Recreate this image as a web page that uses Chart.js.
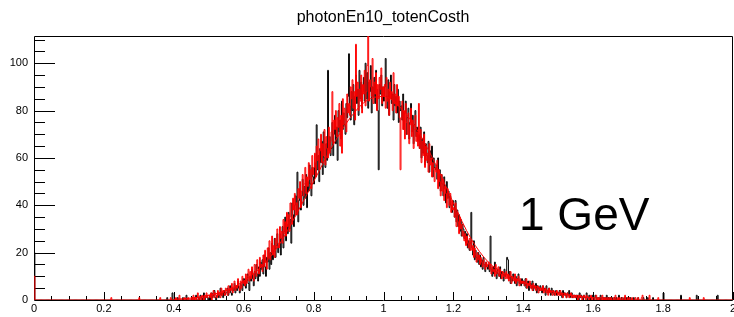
<!DOCTYPE html>
<html>
<head>
<meta charset="utf-8">
<script src="https://cdn.jsdelivr.net/npm/chart.js@4.4.1/dist/chart.umd.min.js"></script>
<style>
    html, body { margin: 0; padding: 0; background: #fff; }
    #wrap { width: 734px; height: 317px; }
</style>
</head>
<body>
<div id="wrap"><canvas id="chart-hist"></canvas></div>
<script>
// Histogram binning (x from 0 to 2)
const BIN_W = 0.0025;
const CORE_START = 0.45;

// Black histogram, bins from 0.45 on (20 bins = 0.05 per row)
const blackCore = [
    0, 1, 0, 0, 1, 2, 0, 0, 1, 0, 2, 1, 0, 1, 3, 0, 1, 2, 1, 0,
    1, 2, 0, 3, 1, 2, 4, 1, 0, 2, 3, 1, 2, 5, 2, 3, 1, 4, 2, 3,
    3, 5, 2, 4, 6, 3, 2, 5, 4, 7, 3, 6, 4, 8, 5, 3, 7, 6, 4, 9,
    6, 9, 5, 8, 11, 7, 4, 10, 8, 13, 9, 6, 12, 9, 15, 11, 8, 14, 10, 16,
    13, 17, 11, 19, 14, 10, 18, 16, 22, 13, 20, 15, 24, 17, 21, 26, 18, 23, 28, 20,
    23, 28, 19, 26, 31, 22, 29, 35, 25, 32, 28, 37, 30, 34, 24, 41, 36, 31, 40, 44,
    36, 54, 33, 42, 47, 38, 44, 51, 40, 48, 43, 53, 39, 50, 46, 57, 49, 44, 56, 52,
    49, 58, 52, 74, 55, 61, 50, 64, 58, 67, 53, 71, 60, 56, 66, 59, 97, 63, 69, 61,
    64, 75, 61, 70, 78, 66, 73, 59, 80, 71, 76, 68, 84, 72, 79, 74, 70, 83, 77, 86,
    104, 82, 76, 88, 80, 91, 74, 86, 95, 83, 89, 78, 97, 85, 92, 81, 88, 94, 84, 100,
    85, 96, 81, 92, 88, 99, 79, 90, 86, 94, 83, 97, 89, 80, 55, 91, 87, 95, 82, 90,
    84, 90, 102, 86, 81, 93, 78, 88, 95, 83, 87, 76, 91, 82, 86, 79, 89, 75, 84, 80,
    82, 76, 87, 72, 79, 84, 70, 77, 81, 68, 75, 83, 71, 78, 66, 74, 80, 69, 73, 67,
    70, 64, 73, 60, 68, 62, 71, 57, 66, 61, 58, 67, 54, 63, 59, 65, 52, 60, 56, 55,
    57, 51, 60, 48, 55, 46, 53, 49, 44, 52, 47, 41, 50, 43, 46, 39, 44, 40, 37, 42,
    40, 35, 42, 33, 38, 31, 36, 29, 34, 27, 32, 30, 26, 29, 24, 28, 22, 25, 21, 24,
    37, 22, 19, 25, 17, 21, 18, 16, 20, 15, 19, 14, 17, 13, 18, 15, 12, 16, 14, 13,
    15, 12, 27, 13, 10, 14, 11, 16, 12, 9, 13, 11, 10, 14, 9, 12, 11, 8, 13, 10,
    11, 18, 17, 9, 12, 7, 10, 8, 11, 9, 7, 10, 6, 9, 11, 7, 8, 6, 9, 7,
    8, 6, 9, 5, 7, 8, 4, 6, 7, 5, 8, 4, 6, 5, 7, 3, 6, 5, 4, 6,
    5, 3, 6, 4, 5, 2, 6, 4, 3, 5, 4, 2, 5, 3, 4, 2, 3, 4, 2, 3,
    3, 4, 2, 3, 1, 4, 2, 3, 2, 1, 3, 2, 4, 1, 2, 3, 1, 2, 2, 1,
    2, 1, 2, 0, 3, 1, 2, 1, 0, 2, 1, 1, 3, 0, 1, 2, 0, 1, 1, 2,
    1, 0, 2, 1, 0, 1, 1, 0, 2, 0, 1, 1, 0, 1, 0, 2, 0, 1, 0, 1,
    0, 1, 0, 0, 1, 0, 1, 0, 0, 2, 0, 0, 1, 0, 0, 1, 0, 0, 1, 0,
    0, 0, 1, 0, 0, 0, 1, 0, 0, 0, 0, 1, 0, 0, 0, 0, 0, 1, 0, 0
];

// Red histogram, same binning
const redCore = [
    1, 0, 2, 0, 1, 0, 1, 3, 0, 1, 1, 0, 2, 1, 0, 2, 1, 3, 1, 2,
    2, 1, 3, 0, 2, 4, 1, 3, 2, 1, 4, 2, 3, 1, 5, 2, 4, 3, 2, 5,
    4, 2, 6, 3, 5, 4, 7, 3, 5, 8, 4, 6, 5, 9, 6, 4, 8, 5, 10, 7,
    8, 6, 11, 7, 10, 13, 8, 12, 9, 14, 11, 8, 15, 12, 10, 17, 13, 11, 18, 14,
    15, 12, 19, 14, 21, 16, 13, 22, 18, 25, 17, 20, 27, 19, 23, 18, 26, 22, 30, 24,
    22, 31, 26, 29, 24, 34, 28, 33, 27, 37, 31, 36, 29, 41, 35, 32, 43, 38, 45, 36,
    41, 36, 47, 43, 50, 39, 46, 53, 44, 49, 56, 45, 52, 48, 58, 51, 55, 47, 61, 53,
    56, 62, 52, 65, 59, 68, 55, 63, 70, 58, 66, 61, 72, 57, 69, 64, 60, 73, 62, 67,
    71, 88, 66, 76, 72, 80, 69, 77, 73, 83, 65, 78, 62, 85, 74, 81, 76, 71, 87, 79,
    83, 78, 90, 85, 93, 81, 88, 76, 108, 86, 92, 80, 89, 84, 95, 79, 91, 87, 97, 82,
    88, 99, 118, 84, 93, 90, 86, 102, 83, 92, 87, 96, 80, 91, 85, 94, 89, 98, 83, 90,
    86, 91, 81, 94, 84, 89, 78, 92, 85, 88, 80, 96, 83, 87, 79, 91, 82, 86, 77, 55,
    77, 84, 72, 80, 68, 83, 75, 70, 79, 66, 74, 81, 69, 76, 64, 72, 78, 67, 71, 65,
    83, 64, 72, 58, 67, 61, 70, 56, 65, 59, 62, 54, 66, 57, 60, 52, 58, 55, 50, 56,
    54, 59, 47, 55, 50, 44, 53, 46, 51, 42, 48, 45, 39, 47, 43, 40, 45, 37, 42, 38,
    39, 35, 41, 31, 37, 33, 28, 35, 30, 32, 27, 29, 25, 28, 23, 27, 24, 22, 26, 21,
    25, 21, 23, 18, 22, 19, 16, 20, 17, 19, 15, 18, 16, 14, 17, 15, 13, 16, 14, 15,
    16, 13, 15, 11, 14, 12, 13, 10, 15, 11, 12, 14, 10, 13, 11, 9, 12, 10, 11, 9,
    12, 9, 11, 8, 10, 12, 7, 10, 9, 8, 11, 7, 9, 8, 10, 6, 9, 7, 8, 7,
    8, 6, 7, 9, 5, 7, 6, 8, 5, 6, 4, 7, 5, 6, 4, 5, 6, 3, 5, 4,
    5, 4, 6, 3, 4, 5, 3, 4, 2, 5, 3, 4, 3, 2, 4, 3, 2, 3, 4, 2,
    3, 2, 4, 2, 3, 1, 2, 3, 2, 1, 3, 2, 1, 2, 3, 1, 2, 1, 2, 1,
    2, 1, 0, 2, 1, 2, 1, 0, 1, 2, 1, 0, 2, 1, 1, 0, 1, 2, 0, 1,
    1, 0, 1, 2, 0, 1, 0, 1, 1, 0, 2, 0, 1, 0, 1, 0, 1, 0, 1, 0,
    1, 0, 0, 1, 0, 2, 0, 0, 1, 0, 1, 0, 0, 1, 0, 0, 2, 0, 0, 1,
    0, 1, 0, 0, 1, 0, 0, 0, 1, 0, 0, 1, 0, 0, 0, 1, 0, 0, 0, 0
];

// Isolated entries outside the core range [x, count]
const blackExtra = [[0.0, 20], [0.38, 1], [0.395, 3], [0.41, 1], [0.425, 1], [0.435, 2],
    [1.755, 1], [1.77, 1], [1.80, 3], [1.85, 2], [1.895, 2], [1.955, 2]];
const redExtra = [[0.0, 10], [0.22, 1], [0.30, 1], [0.36, 1], [0.39, 1], [0.405, 1],
    [0.415, 2], [0.43, 1], [0.44, 1], [1.74, 2], [1.76, 2], [1.785, 1], [1.875, 1], [1.915, 1]];

// Fit curve, read every 0.05
const fitX = [0.40, 0.45, 0.50, 0.55, 0.60, 0.65, 0.70, 0.75, 0.80, 0.85, 0.90, 0.95,
    1.00, 1.05, 1.10, 1.15, 1.20, 1.25, 1.30, 1.35, 1.40, 1.45, 1.50, 1.55, 1.60];
const fitY = [0.3, 0.8, 2, 4, 8, 14, 23, 36, 50, 64, 76, 84,
    86, 81, 71, 57, 41, 26, 16, 11, 7.5, 5, 3, 1.8, 1];

// Axis ticks
const xLabelValues = [0, 0.2, 0.4, 0.6, 0.8, 1, 1.2, 1.4, 1.6, 1.8, 2];
const yLabelValues = [0, 20, 40, 60, 80, 100];
const Y_MAX = 111.5;

const TITLE = 'photonEn10_totenCosth';
const NOTE = '1 GeV';

function montarHistograma(core, extra) {
    const nBins = Math.round(2 / BIN_W);
    const counts = new Array(nBins).fill(0);
    const first = Math.round(CORE_START / BIN_W);
    core.forEach((n, i) => { counts[first + i] = n; });
    extra.forEach(([x, n]) => { counts[Math.round(x / BIN_W)] = n; });
    const pts = counts.map((n, i) => ({ x: i * BIN_W, y: n }));
    pts.push({ x: 2, y: counts[nBins - 1] });
    return pts;
}

// Frame + inward ticks (ROOT style)
const framePlugin = {
    id: 'rootFrame',
    beforeDatasetsDraw(chart) {
        const { ctx, chartArea: a, scales: { x, y } } = chart;
        ctx.save();
        ctx.lineWidth = 1;
        ctx.strokeStyle = '#000';
        ctx.beginPath();
        ctx.rect(a.left + 0.5, a.top + 0.5, a.right - a.left - 1, a.bottom - a.top);
        ctx.stroke();
        ctx.beginPath();
        for (let i = 0; i <= 40; i++) {
            const px = Math.round(x.getPixelForValue(i * 0.05)) + 0.5;
            const len = i % 4 === 0 ? 8 : 4;
            ctx.moveTo(px, a.bottom);
            ctx.lineTo(px, a.bottom - len);
        }
        for (let v = 5; v <= Y_MAX; v += 5) {
            const py = Math.round(y.getPixelForValue(v)) + 0.5;
            const len = v % 20 === 0 ? 21 : 11;
            ctx.moveTo(a.left, py);
            ctx.lineTo(a.left + len, py);
        }
        ctx.stroke();
        ctx.restore();
    },
    afterDraw(chart) {
        const { ctx, chartArea: a, scales: { x, y } } = chart;
        ctx.save();
        ctx.fillStyle = '#000';
        ctx.font = '11px "Liberation Sans", Arial, sans-serif';
        ctx.textAlign = 'center';
        ctx.textBaseline = 'middle';
        xLabelValues.forEach(v => {
            ctx.fillText(String(v), x.getPixelForValue(v), a.bottom + 9);
        });
        ctx.textAlign = 'right';
        yLabelValues.forEach(v => {
            ctx.fillText(String(v), a.left - 6, y.getPixelForValue(v));
        });
        ctx.textAlign = 'center';
        ctx.textBaseline = 'alphabetic';
        ctx.font = '16px "Liberation Sans", Arial, sans-serif';
        ctx.fillText(TITLE, 383, 22);
        ctx.textAlign = 'left';
        ctx.font = '46px "Liberation Sans", Arial, sans-serif';
        ctx.fillText(NOTE, 519, 230);
        ctx.restore();
    }
};

const ctxHist = document.getElementById('chart-hist').getContext('2d');
const histChart = new Chart(ctxHist, {
    type: 'line',
    data: {
        datasets: [
            {
                label: 'black',
                data: montarHistograma(blackCore, blackExtra),
                borderColor: '#000000',
                borderWidth: 1,
                stepped: true,
                pointRadius: 0,
                order: 3
            },
            {
                label: 'red',
                data: montarHistograma(redCore, redExtra),
                borderColor: '#ff0000',
                borderWidth: 1,
                stepped: true,
                pointRadius: 0,
                order: 2
            },
            {
                label: 'fit',
                data: fitX.map((v, i) => ({ x: v, y: fitY[i] })),
                borderColor: '#ff0000',
                borderWidth: 1,
                cubicInterpolationMode: 'monotone',
                pointRadius: 0,
                order: 1
            }
        ]
    },
    options: {
        responsive: true,
        maintainAspectRatio: false,
        animation: false,
        events: [],
        layout: { padding: { top: 36, right: 1, left: 0, bottom: 0 } },
        plugins: {
            legend: { display: false },
            title: { display: false },
            tooltip: { enabled: false }
        },
        scales: {
            x: {
                type: 'linear',
                min: 0,
                max: 2,
                grid: { display: false },
                border: { display: false },
                ticks: { display: false },
                afterFit: s => { s.height = 17; }
            },
            y: {
                min: 0,
                max: Y_MAX,
                grid: { display: false },
                border: { display: false },
                ticks: { display: false },
                afterFit: s => { s.width = 34; }
            }
        }
    },
    plugins: [framePlugin]
});
</script>
</body>
</html>
